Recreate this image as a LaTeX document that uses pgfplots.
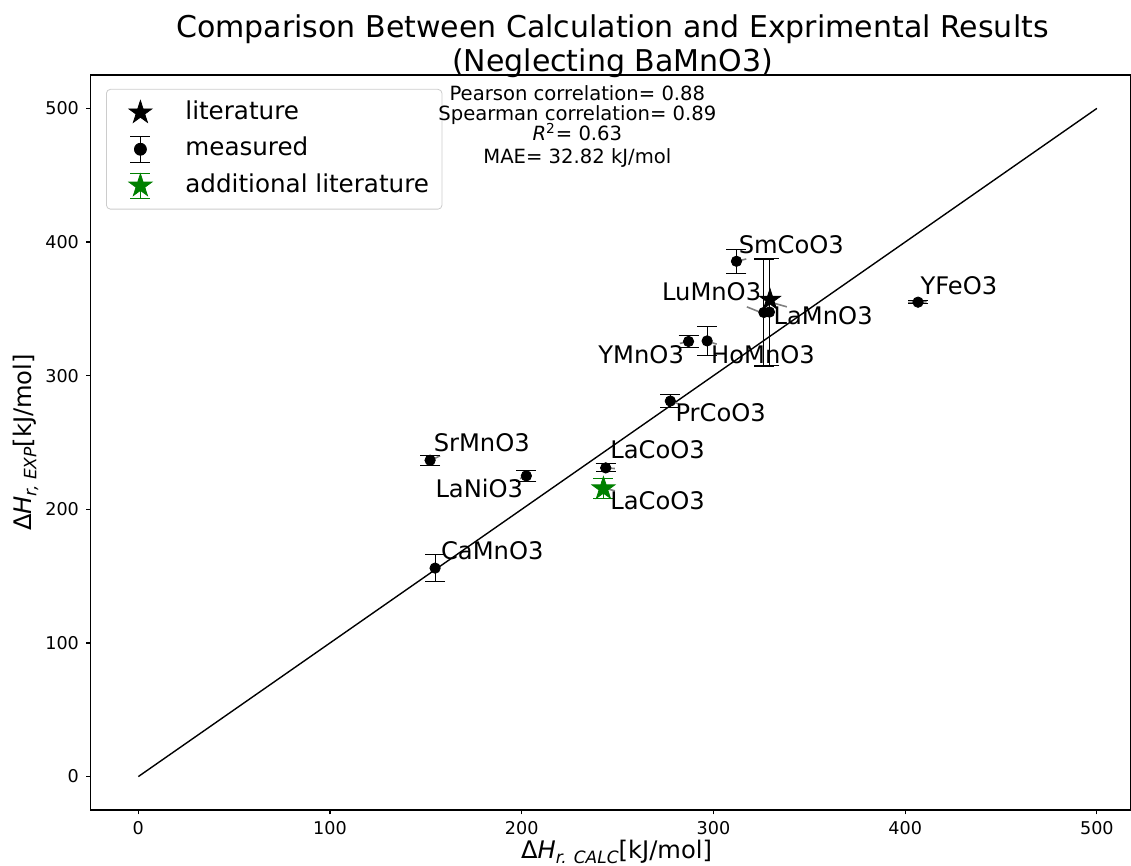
\documentclass[border=0pt]{standalone}
\usepackage{fontspec}
\setmainfont{DejaVu Sans}
\usepackage{pgfplots}
\usepackage{pgfplotstable}
\pgfplotsset{compat=1.18}
\usetikzlibrary{calc}

\definecolor{mplgreen}{RGB}{0,128,0}
\definecolor{legframe}{RGB}{204,204,204}
\definecolor{arrowgray}{RGB}{128,128,128}

\newcommand{\lbl}{\fontsize{12.1}{14}\selectfont}
\newcommand{\sub}[1]{\raisebox{-0.2em}{\fontsize{8.5}{9}\selectfont\itshape #1}}

% filled five point star, like matplotlib's '*'
\pgfdeclareplotmark{fstar}{%
  \pgfpathmoveto{\pgfpointpolar{90}{\pgfplotmarksize}}%
  \pgfpathlineto{\pgfpointpolar{126}{0.382\pgfplotmarksize}}%
  \pgfpathlineto{\pgfpointpolar{162}{\pgfplotmarksize}}%
  \pgfpathlineto{\pgfpointpolar{198}{0.382\pgfplotmarksize}}%
  \pgfpathlineto{\pgfpointpolar{234}{\pgfplotmarksize}}%
  \pgfpathlineto{\pgfpointpolar{270}{0.382\pgfplotmarksize}}%
  \pgfpathlineto{\pgfpointpolar{306}{\pgfplotmarksize}}%
  \pgfpathlineto{\pgfpointpolar{342}{0.382\pgfplotmarksize}}%
  \pgfpathlineto{\pgfpointpolar{18}{\pgfplotmarksize}}%
  \pgfpathlineto{\pgfpointpolar{54}{0.382\pgfplotmarksize}}%
  \pgfpathclose
  \pgfusepathqfillstroke
}

% measured: calc, exp, error
\pgfplotstableread{
x y e
154.8 156.0 10.0
152.2 236.7 3.7
202.4 225.0 4.1
243.8 231.0 3.0
277.5 281.0 4.7
287.0 325.6 4.5
296.7 326.0 11.0
312.0 385.6 9.0
326.3 347.3 40.0
329.2 347.6 40.0
406.7 355.0 1.2
}\measured

\pgfplotstableread{
x y
329.5 356.8
}\literature

\pgfplotstableread{
x y e
242.6 215.5 7.5
}\addlit

\begin{document}
\begin{tikzpicture}
\begin{axis}[
    scale only axis,
    width=520.3pt, height=367.5pt,
    xmin=-25, xmax=517.8,
    ymin=-25, ymax=525,
    xtick={0,100,...,500},
    ytick={0,100,...,500},
    xtick pos=bottom, ytick pos=left,
    tick align=outside,
    major tick length=2.2pt,
    tick style={black, line width=0.6pt},
    axis line style={line width=0.6pt},
    /pgf/number format/assume math mode=true,
    ticklabel style={font=\fontsize{8.8}{10}\selectfont},
    clip=false,
    title={Comparison Between Calculation and Exprimental Results\\(Neglecting BaMnO3)},
    title style={at={(axis description cs:0.5017,1)}, anchor=south, align=center,
        inner sep=0pt, yshift=-7.5pt, font=\fontsize{15}{16.8}\selectfont},
    xlabel={Δ\textit{H}\sub{r. CALC}[kJ/mol]},
    ylabel={Δ\textit{H}\sub{r, EXP}[kJ/mol]},
    xlabel style={at={(axis description cs:0.5056,-0.066)}, anchor=base, inner sep=0pt, font=\lbl},
    ylabel style={at={(axis description cs:-0.0566,0.5)}, anchor=base, inner sep=0pt, font=\lbl},
    legend cell align=left,
    legend style={at={(0.015,0.981)}, anchor=north west,
        draw=legframe, rounded corners=2pt, fill=white,
        font=\fontsize{12.3}{14}\selectfont,
        inner xsep=5pt, inner ysep=4.4pt, row sep=3.8pt,
        nodes={text height=9.5pt, text depth=3pt, inner xsep=1.5pt, inner ysep=1pt}},
]

% legend entries
\addlegendimage{legend image code/.code={
    \path[draw=none, fill=none] (0pt,-7pt) rectangle (33pt,7pt);
    \draw[black, only marks, mark=fstar, mark size=6pt, rounded corners=0pt] plot coordinates {(12pt,0pt)};}}
\addlegendentry{literature}
\addlegendimage{legend image code/.code={
    \path[draw=none, fill=none] (0pt,-7pt) rectangle (33pt,7pt);
    \draw[black, line width=0.6pt, rounded corners=0pt] (12pt,-6.5pt) -- (12pt,6.5pt)
        (7pt,-6.5pt) -- (17pt,-6.5pt) (7pt,6.5pt) -- (17pt,6.5pt);
    \fill[black] (12pt,0pt) circle (3pt);}}
\addlegendentry{measured}
\addlegendimage{legend image code/.code={
    \path[draw=none, fill=none] (0pt,-7pt) rectangle (33pt,7pt);
    \draw[mplgreen, line width=0.6pt, rounded corners=0pt] (12pt,-6.2pt) -- (12pt,6.2pt)
        (7pt,-6.2pt) -- (17pt,-6.2pt) (7pt,6.2pt) -- (17pt,6.2pt);
    \draw[mplgreen, only marks, mark=fstar, mark size=6pt, rounded corners=0pt] plot coordinates {(12pt,0pt)};}}
\addlegendentry{additional literature}

% parity line
\addplot[black, line width=0.7pt, forget plot] coordinates {(0,0) (500,500)};

% label arrows
\begin{scope}[arrowgray, line width=0.8pt]
\draw (axis cs:312.0,385.6) -- (axis cs:317.1,387.3);
\draw (axis cs:317.4,351.5) -- (axis cs:326.1,346.5);
\draw (axis cs:330.4,354.7) -- (axis cs:338.3,351.5);
\draw (axis cs:282.5,324.1) -- (axis cs:286.8,325.6);
\draw (axis cs:296.5,325.9) -- (axis cs:301.7,323.6);
\draw (axis cs:401.5,354.8) -- (axis cs:411.2,355.3);
\draw (axis cs:152.5,236.7) -- (axis cs:157.4,240.0);
\draw (axis cs:199.1,223.0) -- (axis cs:202.6,225.0);
\draw (axis cs:243.8,231.0) -- (axis cs:248.6,230.5);
\draw (axis cs:243.4,215.8) -- (axis cs:248.6,213.8);
\draw (axis cs:277.5,281.2) -- (axis cs:282.0,278.7);
\end{scope}

\addplot[only marks, mark=*, black, mark size=2.6pt, forget plot,
    error bars/.cd, y dir=both, y explicit, error mark=|,
    error bar style={black, line width=0.6pt},
    error mark options={black, line width=0.6pt, mark size=5pt}]
    table[x=x, y=y, y error=e] {\measured};

\addplot[only marks, mark=fstar, black, mark size=5.5pt, forget plot]
    table[x=x, y=y] {\literature};

\addplot[only marks, mark=fstar, mplgreen, mark size=6pt, forget plot,
    error bars/.cd, y dir=both, y explicit, error mark=|,
    error bar style={mplgreen, line width=0.6pt},
    error mark options={mplgreen, line width=0.6pt, mark size=5pt}]
    table[x=x, y=y, y error=e] {\addlit};

% point labels
\begin{scope}[every node/.style={anchor=base west, inner sep=0pt, font=\lbl}]
\node at (axis cs:313.0,391.1) {SmCoO3};
\node at (axis cs:273.0,356.1) {LuMnO3};
\node at (axis cs:331.2,338.1) {LaMnO3};
\node at (axis cs:298.6,309.3) {HoMnO3};
\node at (axis cs:239.8,309.3) {YMnO3};
\node at (axis cs:407.8,361.1) {YFeO3};
\node at (axis cs:280.0,265.5) {PrCoO3};
\node at (axis cs:153.9,243.0) {SrMnO3};
\node at (axis cs:154.8,209.2) {LaNiO3};
\node at (axis cs:246.0,238.0) {LaCoO3};
\node at (axis cs:246.0,199.9) {LaCoO3};
\node at (axis cs:157.7,162.4) {CaMnO3};
\end{scope}

% statistics positions (text set after the axis, above the legend)
\coordinate (st1) at (axis cs:229,506.2);
\coordinate (st2) at (axis cs:229,490.8);
\coordinate (st3) at (axis cs:229,475.8);
\coordinate (st4) at (axis cs:229,458.7);

\coordinate (bl) at (rel axis cs:0,0);
\coordinate (tr) at (rel axis cs:1,1);
\end{axis}
\begin{scope}[every node/.style={anchor=base, inner sep=0pt, font=\fontsize{9.8}{11}\selectfont}]
\node at (st1) {Pearson correlation= 0.88};
\node at (st2) {Spearman correlation= 0.89};
\node at (st3) {\textit{R}\textsuperscript{2}= 0.63};
\node at (st4) {MAE= 32.82 kJ/mol};
\end{scope}
\pgfresetboundingbox
\path[use as bounding box] ($(bl)+(-45.2pt,-28pt)$) rectangle ($(tr)+(0pt,37.5pt)$);
\end{tikzpicture}
\end{document}
